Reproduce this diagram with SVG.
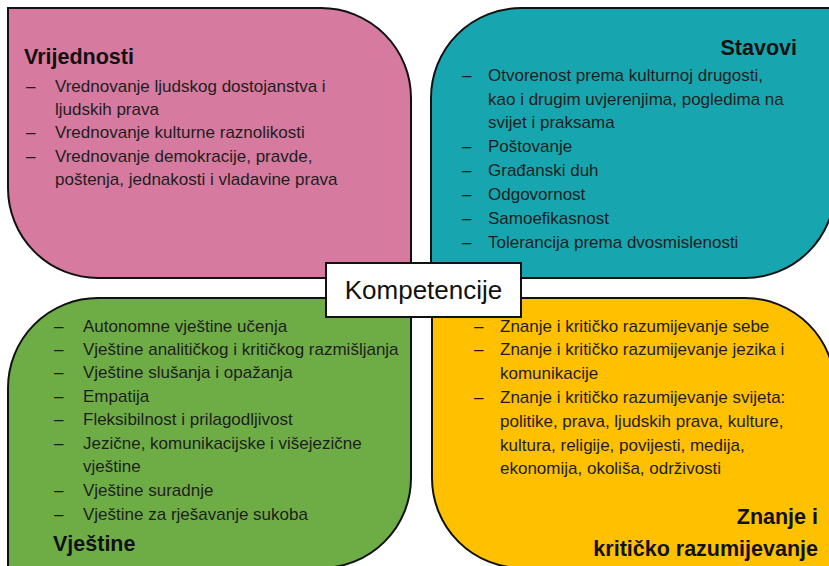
<svg xmlns="http://www.w3.org/2000/svg" width="829" height="566" viewBox="0 0 829 566">
<style>
.shape{stroke:#111;stroke-width:2;}
.item{font-family:"Liberation Sans",Arial,sans-serif;font-size:17px;fill:#1e1e1e;}
.title{font-family:"Liberation Sans",Arial,sans-serif;font-size:21.5px;font-weight:bold;fill:#111;}
.center{font-family:"Liberation Sans",Arial,sans-serif;font-size:26px;fill:#111;}
</style>
<rect width="829" height="566" fill="#ffffff"/>
<g id="vrijednosti">
<path class="shape" fill="#D67AA0" d="M8,8 H321 A90,90 0 0 1 411,98 V278 H98 A90,90 0 0 1 8,188 Z"/>
<text class="title" x="24" y="64">Vrijednosti</text>
<g class="item">
<text x="26" y="92">–</text><text x="55" y="92">Vrednovanje ljudskog dostojanstva i</text>
<text x="55" y="115">ljudskih prava</text>
<text x="26" y="138">–</text><text x="55" y="138">Vrednovanje kulturne raznolikosti</text>
<text x="26" y="162">–</text><text x="55" y="162">Vrednovanje demokracije, pravde,</text>
<text x="55" y="185">poštenja, jednakosti i vladavine prava</text>
</g>
</g>
<g id="stavovi">
<path class="shape" fill="#17A6AF" d="M431,278 V98 A90,90 0 0 1 521,8 H835 V188 A90,90 0 0 1 745,278 Z"/>
<text class="title" x="797" y="55" text-anchor="end">Stavovi</text>
<g class="item">
<text x="462" y="81">–</text><text x="488" y="81">Otvorenost prema kulturnoj drugosti,</text>
<text x="488" y="105">kao i drugim uvjerenjima, pogledima na</text>
<text x="488" y="128">svijet i praksama</text>
<text x="462" y="152">–</text><text x="488" y="152">Poštovanje</text>
<text x="462" y="176">–</text><text x="488" y="176">Građanski duh</text>
<text x="462" y="200">–</text><text x="488" y="200">Odgovornost</text>
<text x="462" y="224">–</text><text x="488" y="224">Samoefikasnost</text>
<text x="462" y="248">–</text><text x="488" y="248">Tolerancija prema dvosmislenosti</text>
</g>
</g>
<g id="vjestine">
<path class="shape" fill="#6EAD46" d="M8,568 V388 A90,90 0 0 1 98,298 H411 V478 A90,90 0 0 1 321,568 Z"/>
<g class="item">
<text x="54" y="332">–</text><text x="83" y="332">Autonomne vještine učenja</text>
<text x="54" y="355">–</text><text x="83" y="355">Vještine analitičkog i kritičkog razmišljanja</text>
<text x="54" y="378">–</text><text x="83" y="378">Vještine slušanja i opažanja</text>
<text x="54" y="402">–</text><text x="83" y="402">Empatija</text>
<text x="54" y="425">–</text><text x="83" y="425">Fleksibilnost i prilagodljivost</text>
<text x="54" y="449">–</text><text x="83" y="449">Jezične, komunikacijske i višejezične</text>
<text x="83" y="472">vještine</text>
<text x="54" y="496">–</text><text x="83" y="496">Vještine suradnje</text>
<text x="54" y="520">–</text><text x="83" y="520">Vještine za rješavanje sukoba</text>
</g>
<text class="title" x="53" y="551">Vještine</text>
</g>
<g id="znanje">
<path class="shape" fill="#FFC000" d="M432,298 H745 A90,90 0 0 1 835,388 V568 H522 A90,90 0 0 1 432,478 Z"/>
<g class="item">
<text x="474" y="332">–</text><text x="500" y="332">Znanje i kritičko razumijevanje sebe</text>
<text x="474" y="355">–</text><text x="500" y="355">Znanje i kritičko razumijevanje jezika i</text>
<text x="500" y="379">komunikacije</text>
<text x="474" y="403">–</text><text x="500" y="403">Znanje i kritičko razumijevanje svijeta:</text>
<text x="500" y="427">politike, prava, ljudskih prava, kulture,</text>
<text x="500" y="451">kultura, religije, povijesti, medija,</text>
<text x="500" y="474">ekonomija, okoliša, održivosti</text>
</g>
<text class="title" x="818" y="524" text-anchor="end">Znanje i</text>
<text class="title" x="818" y="556" text-anchor="end">kritičko razumijevanje</text>
</g>
<g id="kompetencije">
<rect class="shape" x="326" y="263" width="195" height="54" fill="#ffffff"/>
<text class="center" x="423.5" y="299" text-anchor="middle">Kompetencije</text>
</g>
</svg>
